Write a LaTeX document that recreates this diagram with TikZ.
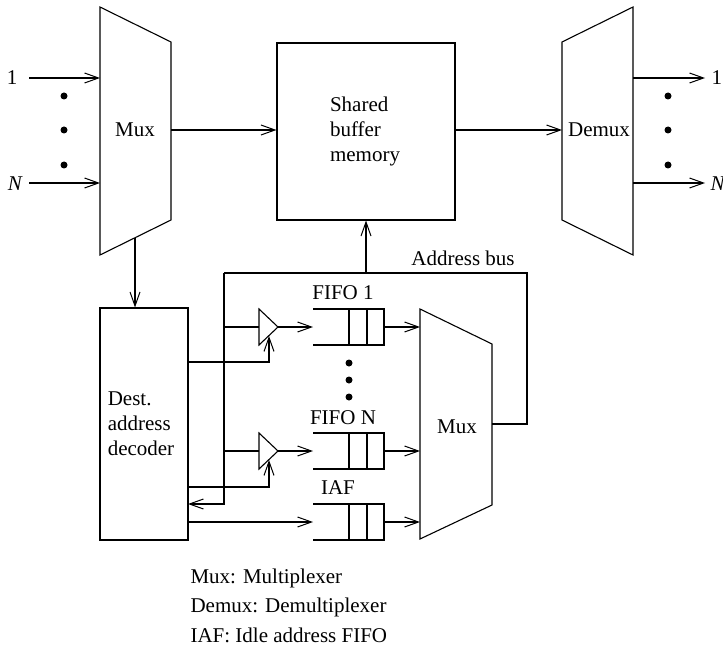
\documentclass[tikz,border=0pt]{standalone}
\usepackage{fontspec}
\setmainfont{Liberation Serif}
\usetikzlibrary{arrows.meta}
\begin{document}
\begin{tikzpicture}[x=1pt,y=-1pt,line width=1.1pt,
  arr/.style={-{Straight Barb[length=14pt,width=10pt,line width=1pt]}},
  lbl/.style={font=\fontsize{21}{25}\selectfont,inner sep=0pt},
  box/.style={draw,rectangle,inner sep=0pt},
  dot/.style={circle,fill,inner sep=0pt,minimum size=7pt}]
\useasboundingbox (0,0) rectangle (723,650);
% left mux
\draw (100,7) -- (171,42) -- (171,220) -- (100,255) -- cycle;
\node[lbl] (muxA) at (135,130) {Mux};
\coordinate (muxAin1) at (100,78);
\coordinate (muxAinN) at (100,183);
\coordinate (muxAout) at (171,130);
\coordinate (muxAbot) at (135,238);
\node[lbl] (in1) at (12,78) {1};
\node[lbl] (inN) at (15,184) {\itshape N};
\coordinate (in1s) at (29,78);
\coordinate (inNs) at (29,183);
\draw[arr] (in1s) -- (muxAin1);
\draw[arr] (inNs) -- (muxAinN);
\node[dot] (dA1) at (64,96) {};
\node[dot] (dA2) at (64,130) {};
\node[dot] (dA3) at (64,165) {};
% shared buffer
\node[box,minimum width=178pt,minimum height=177pt] (buf) at (366,131.5) {};
\node[lbl,align=left] (buft) at (365,131) {Shared\\buffer\\memory};
% demux
\draw (562,42) -- (633,7) -- (633,255) -- (562,220) -- cycle;
\node[lbl] (demux) at (599,130) {Demux};
\coordinate (demuxin) at (562,130);
\coordinate (demuxo1) at (633,78);
\coordinate (demuxoN) at (633,183);
\coordinate (o1e) at (705,78);
\coordinate (oNe) at (705,183);
\node[lbl,anchor=west] (out1) at (711,78) {1};
\node[lbl,anchor=west] (outN) at (710,184) {\itshape N};
\draw[arr] (demuxo1) -- (o1e);
\draw[arr] (demuxoN) -- (oNe);
\node[dot] (dB1) at (668,96) {};
\node[dot] (dB2) at (668,130) {};
\node[dot] (dB3) at (668,165) {};
\draw[arr] (muxAout) -- (buf.west |- muxAout);
\draw[arr] (buf.east |- demuxin) -- (demuxin);
% decoder
\node[box,minimum width=88pt,minimum height=232pt] (dec) at (144,424) {};
\node[lbl,align=left] (dect) at (141,424) {Dest.\\address\\decoder};
\draw[arr] (muxAbot) -- (dec.north -| muxAbot);
% lower mux
\draw (420,309) -- (492,344) -- (492,505) -- (420,539) -- cycle;
\node[lbl] (muxB) at (457,427) {Mux};
\coordinate (muxBout) at (492,424);
% buffers (triangles)
\draw (259,309) -- (278,327) -- (259,345) -- cycle;
\draw (259,433) -- (278,451) -- (259,469) -- cycle;
\coordinate (tr1) at (278,327);
\coordinate (tr2) at (278,451);
% FIFOs
\foreach \y/\n in {309/f1,433/fN,504/iaf}{
  \draw (313,\y) -- (384,\y) -- (384,\y+36) -- (313,\y+36);
  \draw (349,\y) -- (349,\y+36);
  \draw (367,\y) -- (367,\y+36);
  \coordinate (\n in) at (313,\y+18);
  \coordinate (\n out) at (384,\y+18);
}
\node[lbl] (lf1) at (343,293) {FIFO 1};
\node[lbl] (lfN) at (343,418) {FIFO N};
\node[lbl] (liaf) at (338,488) {IAF};
\node[dot] (dC1) at (349,363) {};
\node[dot] (dC2) at (349,380) {};
\node[dot] (dC3) at (349,397) {};
\draw[arr] (tr1) -- (f1in);
\draw[arr] (tr2) -- (fNin);
\draw[arr] (188,522) -- (iafin);
\draw[arr] (f1out) -- (420,327);
\draw[arr] (fNout) -- (420,451);
\draw[arr] (iafout) -- (420,522);
% control arrows
\draw[arr] (188,362) -| (269,336);
\draw[arr] (188,487) -| (269,460);
% address bus
\coordinate (bl) at (224,273);
\coordinate (br) at (527,273);
\draw (muxBout) -| (br) -- (bl);
\draw[arr] (bl) -- (224,504) -- (188,504);
\draw[arr] (366,273) -- (buf.south);
\draw (224,327) -- (259,327);
\draw (224,451) -- (259,451);
\node[lbl] (abus) at (463,258) {Address bus};
% legend
\node[lbl,anchor=west] (lg1) at (190,578) {Mux: Multiplexer};
\node[lbl,anchor=west] (lg2) at (190,607) {Demux: Demultiplexer};
\node[lbl,anchor=west] (lg3) at (190,635) {IAF: Idle address FIFO};
\end{tikzpicture}
\end{document}
